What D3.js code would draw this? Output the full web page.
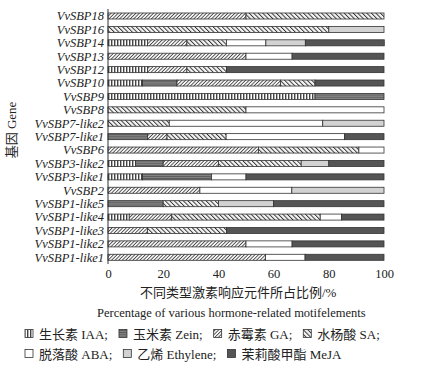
<!DOCTYPE html>
<html>
<head>
    <meta charset="utf-8">
    <style>
        body { margin: 0; background: #fff; }
        text { font-family: "Liberation Serif", "Noto Sans CJK SC", serif; fill: #222; }
        .gene { font-style: italic; font-size: 12.5px; }
    </style>
</head>
<body>
    <svg width="439" height="370"></svg>

<script src="https://d3js.org/d3.v7.min.js"></script>
<script>
    // genes, top to bottom
    let genes = ["VvSBP18", "VvSBP16", "VvSBP14", "VvSBP13", "VvSBP12", "VvSBP10", "VvSBP9", "VvSBP8",
        "VvSBP7-like2", "VvSBP7-like1", "VvSBP6", "VvSBP3-like2", "VvSBP3-like1", "VvSBP2",
        "VvSBP1-like5", "VvSBP1-like4", "VvSBP1-like3", "VvSBP1-like2", "VvSBP1-like1"]

    let seriesKeys = ["IAA", "Zein", "GA", "SA", "ABA", "Ethylene", "MeJA"]
    let seriesLabels = ["生长素 IAA;", "玉米素 Zein;", "赤霉素 GA;", "水杨酸 SA;", "脱落酸 ABA;", "乙烯 Ethylene;", "茉莉酸甲酯 MeJA"]

    // percentages per gene (same order as genes)
    let IAA      = [0, 0, 14.3, 0, 14.3, 12.5, 75, 0, 0, 0, 0, 10, 12.5, 0, 0, 7.7, 0, 0, 0]
    let Zein     = [0, 0, 0, 0, 0, 12.5, 25, 0, 0, 14.3, 0, 10, 25, 0, 20, 0, 0, 0, 0]
    let GA       = [50, 0, 14.3, 50, 14.3, 37.5, 0, 0, 0, 7.1, 54.5, 20, 0, 33.3, 0, 15.4, 14.3, 50, 57.1]
    let SA       = [50, 80, 14.3, 0, 14.3, 12.5, 0, 50, 22.2, 21.4, 36.4, 30, 0, 0, 20, 53.8, 28.6, 0, 0]
    let ABA      = [0, 0, 14.3, 16.7, 0, 0, 0, 50, 55.6, 42.9, 9.1, 0, 12.5, 33.3, 0, 7.7, 0, 16.7, 14.3]
    let Ethylene = [0, 20, 14.3, 0, 0, 0, 0, 0, 22.2, 0, 0, 10, 0, 33.4, 20, 0, 0, 0, 0]
    let MeJA     = [0, 0, 28.6, 33.3, 57.1, 25, 0, 0, 0, 14.3, 0, 20, 50, 0, 40, 15.4, 57.1, 33.3, 28.6]

    let xTicks = [0, 20, 40, 60, 80, 100]

    let seriesVals = { IAA, Zein, GA, SA, ABA, Ethylene, MeJA }
    let rows = genes.map((g, i) => {
        let r = { gene: g }
        seriesKeys.forEach(k => r[k] = seriesVals[k][i])
        return r
    })

    let svg = d3.select("svg")
    let defs = svg.append("defs")

    // fill patterns
    let pIAA = defs.append("pattern").attr("id", "p-IAA").attr("patternUnits", "userSpaceOnUse")
        .attr("width", 3).attr("height", 4)
    pIAA.append("rect").attr("width", 3).attr("height", 4).attr("fill", "#fff")
    pIAA.append("line").attr("x1", 0.75).attr("x2", 0.75).attr("y1", 0).attr("y2", 4)
        .attr("stroke", "#222").attr("stroke-width", 1.2)

    let pZein = defs.append("pattern").attr("id", "p-Zein").attr("patternUnits", "userSpaceOnUse")
        .attr("width", 4).attr("height", 2.2)
    pZein.append("rect").attr("width", 4).attr("height", 2.2).attr("fill", "#858585")
    pZein.append("line").attr("x1", 0).attr("x2", 4).attr("y1", 0.5).attr("y2", 0.5)
        .attr("stroke", "#444").attr("stroke-width", 0.7)

    let pGA = defs.append("pattern").attr("id", "p-GA").attr("patternUnits", "userSpaceOnUse")
        .attr("width", 2.5).attr("height", 2.5).attr("patternTransform", "rotate(45)")
    pGA.append("rect").attr("width", 2.5).attr("height", 2.5).attr("fill", "#f4f4f4")
    pGA.append("line").attr("x1", 0).attr("x2", 0).attr("y1", 0).attr("y2", 2.5)
        .attr("stroke", "#333").attr("stroke-width", 1.5)

    let pSA = defs.append("pattern").attr("id", "p-SA").attr("patternUnits", "userSpaceOnUse")
        .attr("width", 3.2).attr("height", 3.2).attr("patternTransform", "rotate(-45)")
    pSA.append("rect").attr("width", 3.2).attr("height", 3.2).attr("fill", "#f4f4f4")
    pSA.append("line").attr("x1", 0).attr("x2", 0).attr("y1", 0).attr("y2", 3.2)
        .attr("stroke", "#333").attr("stroke-width", 1.9)

    let fills = {
        IAA: "url(#p-IAA)",
        Zein: "url(#p-Zein)",
        GA: "url(#p-GA)",
        SA: "url(#p-SA)",
        ABA: "#fff",
        Ethylene: "#d2d2d2",
        MeJA: "#555"
    }

    let x = d3.scaleLinear().domain([0, 100]).range([108, 384])
    let y = d3.scaleBand().domain(genes).range([9.3, 264]).paddingInner(0.55).paddingOuter(0.275)

    let stacked = d3.stack().keys(seriesKeys)(rows)

    svg.append("g")
        .selectAll("g")
        .data(stacked)
        .join("g")
        .attr("fill", d => fills[d.key])
        .selectAll("rect")
        .data(d => d.filter(s => s[1] - s[0] > 0))
        .join("rect")
        .attr("x", d => x(d[0]))
        .attr("y", d => y(d.data.gene))
        .attr("width", d => x(d[1]) - x(d[0]))
        .attr("height", y.bandwidth())
        .attr("stroke", "#333")
        .attr("stroke-width", 0.8)

    // y axis line and gene labels
    svg.append("line")
        .attr("x1", 108).attr("x2", 108).attr("y1", 9).attr("y2", 264)
        .attr("stroke", "#333").attr("stroke-width", 1)

    svg.append("g")
        .selectAll("text")
        .data(genes)
        .join("text")
        .attr("class", "gene")
        .attr("x", 104)
        .attr("y", d => y(d) + y.bandwidth() / 2)
        .attr("dy", "0.35em")
        .attr("text-anchor", "end")
        .text(d => d)

    // x tick labels (no axis line)
    let xAxis = svg.append("g")
        .attr("transform", "translate(0,264)")
        .call(d3.axisBottom(x).tickValues(xTicks).tickSize(0).tickPadding(5))
    xAxis.attr("font-family", null).attr("font-size", null)
    xAxis.select(".domain").remove()
    xAxis.selectAll("text")
        .style("font-size", "12.5px")
        .attr("fill", "#222")

    // titles
    svg.append("text")
        .attr("x", 140).attr("y", 297)
        .style("font-size", "13px")
        .text("不同类型激素响应元件所占比例/%")

    svg.append("text")
        .attr("x", 97).attr("y", 317)
        .style("font-size", "12.5px")
        .text("Percentage of various hormone-related motifelements")

    svg.append("text")
        .attr("transform", "translate(16,130) rotate(-90)")
        .attr("text-anchor", "middle")
        .style("font-size", "13px")
        .text("基因 Gene")

    // legend, two rows
    let legendRows = [[0, 1, 2, 3], [4, 5, 6]]
    legendRows.forEach((idxs, r) => {
        let cx = 25
        let cy = 334 + r * 20
        idxs.forEach(i => {
            svg.append("rect")
                .attr("x", cx).attr("y", cy - 4.5)
                .attr("width", 8).attr("height", 8)
                .attr("fill", fills[seriesKeys[i]])
                .attr("stroke", "#333").attr("stroke-width", 0.8)
            let t = svg.append("text")
                .attr("x", cx + 14).attr("y", cy)
                .attr("dy", "0.35em")
                .style("font-size", "13px")
                .text(seriesLabels[i])
            cx += 14 + t.node().getComputedTextLength() + 11
        })
    })
</script>
</body>
</html>
